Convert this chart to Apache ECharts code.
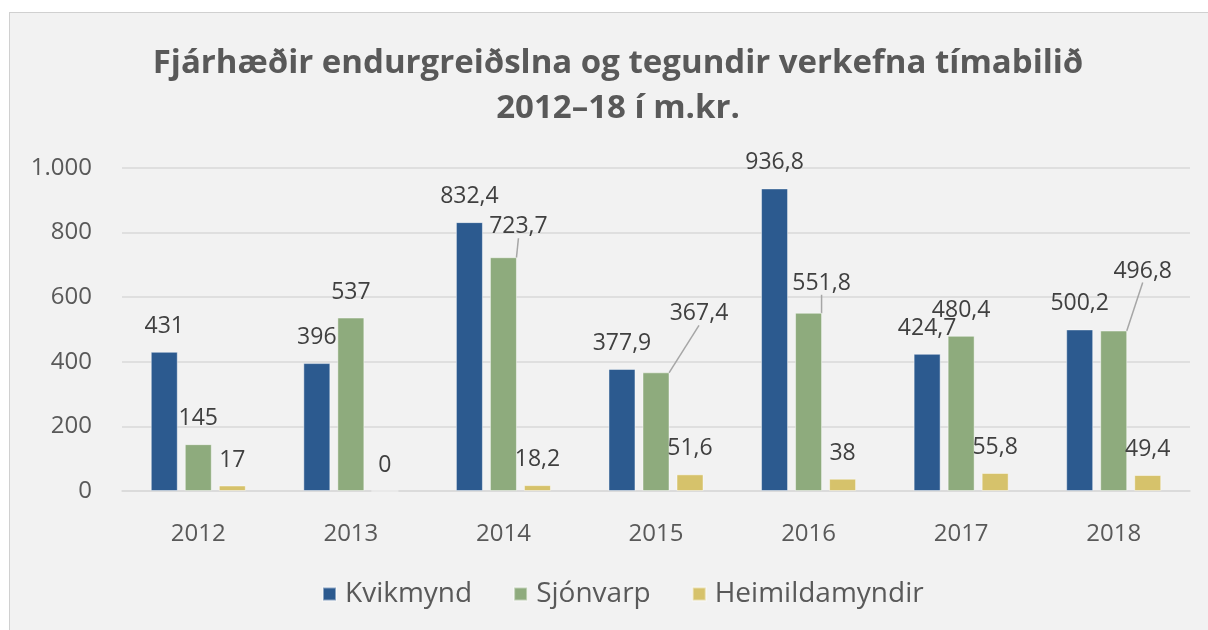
<!DOCTYPE html>
<html>
<head>
<meta charset="utf-8">
<script src="https://cdn.jsdelivr.net/npm/echarts@6/dist/echarts.min.js"></script>
<style>
  html, body { margin: 0; padding: 0; background: #ffffff; }
  #panel { position: absolute; left: 9px; top: 12px; width: 1199px; height: 618px;
           background: #f2f2f2; border-top: 1px solid #d0d0d0; border-left: 1px solid #d0d0d0; box-sizing: border-box; }
  #chart { position: absolute; left: 0; top: 0; width: 1208px; height: 630px; }
</style>
</head>
<body>
<div id="panel"></div>
<div id="chart"></div>
<script>
const titleLines = ['Fjárhæðir endurgreiðslna og tegundir verkefna tímabilið', '2012–18 í m.kr.'];
const categories = ['2012', '2013', '2014', '2015', '2016', '2017', '2018'];
const seriesNames = ['Kvikmynd', 'Sjónvarp', 'Heimildamyndir'];
const kvikmynd = [431, 396, 832.4, 377.9, 936.8, 424.7, 500.2];
const sjonvarp = [145, 537, 723.7, 367.4, 551.8, 480.4, 496.8];
const heimildamyndir = [17, 0, 18.2, 51.6, 38, 55.8, 49.4];
const yTicks = [0, 200, 400, 600, 800, 1000];

const colors = ['#2c5a8f', '#8eab7d', '#d6c26b'];
// label displacement (px) for labels that Excel moved off their bars, by data index
const sjonvarpLabelMoves = { 2: [15, -5], 3: [43, -33], 4: [13, -4], 6: [29, -34] };

const FONT = 'Open Sans';
const fmt = v => String(v).replace('.', ',');
const fmtAxis = v => v >= 1000 ? (Math.floor(v / 1000) + '.' + String(v % 1000).padStart(3, '0')) : String(v);

function makeSeries(name, values, idx) {
  const s = {
    name: name,
    type: 'bar',
    barWidth: 27,
    barGap: '26%',
    itemStyle: { color: colors[idx], borderColor: 'rgba(255,255,255,0.45)', borderWidth: 1 },
    label: {
      show: true, position: 'top', distance: 14,
      fontFamily: FONT, fontSize: 23, color: '#404040',
      formatter: p => fmt(p.value)
    },
    data: values.map((v, i) => {
      const d = { value: v };
      if (idx === 1 && sjonvarpLabelMoves[i]) {
        d.labelLine = { show: true, lineStyle: { color: '#a6a6a6', width: 1.5 } };
      }
      return d;
    })
  };
  if (idx === 1) {
    s.labelLayout = function (params) {
      const m = sjonvarpLabelMoves[params.dataIndex];
      return m ? { dx: m[0], dy: m[1] } : {};
    };
  }
  return s;
}

const chart = echarts.init(document.getElementById('chart'), null, { renderer: 'canvas' });
chart.setOption({
  backgroundColor: 'transparent',
  animation: false,
  color: colors,
  title: {
    text: titleLines.join('\n'),
    left: 613, top: 36, textAlign: 'center',
    textStyle: { fontFamily: FONT, fontSize: 33, fontWeight: 'bold', color: '#595959', lineHeight: 45 }
  },
  legend: {
    data: seriesNames,
    left: 322, top: 580, padding: 0,
    itemWidth: 13, itemHeight: 13, itemGap: 41,
    icon: 'rect',
    textStyle: { fontFamily: FONT, fontSize: 28, color: '#595959', padding: [0, 0, 0, 4] }
  },
  grid: { left: 122, right: 18, top: 168, bottom: 139 },
  xAxis: {
    type: 'category',
    data: categories,
    axisLine: { show: true, lineStyle: { color: '#d9d9d9', width: 1.5 } },
    axisTick: { show: false },
    axisLabel: { fontFamily: FONT, fontSize: 24, color: '#595959', margin: 31 }
  },
  yAxis: {
    type: 'value',
    min: yTicks[0], max: yTicks[yTicks.length - 1], interval: yTicks[1] - yTicks[0],
    axisLine: { show: false },
    axisTick: { show: false },
    splitLine: { lineStyle: { color: '#d9d9d9', width: 1.5 } },
    axisLabel: { fontFamily: FONT, fontSize: 24, color: '#595959', margin: 30, formatter: fmtAxis }
  },
  series: [
    makeSeries(seriesNames[0], kvikmynd, 0),
    makeSeries(seriesNames[1], sjonvarp, 1),
    makeSeries(seriesNames[2], heimildamyndir, 2)
  ]
});
</script>
</body>
</html>
